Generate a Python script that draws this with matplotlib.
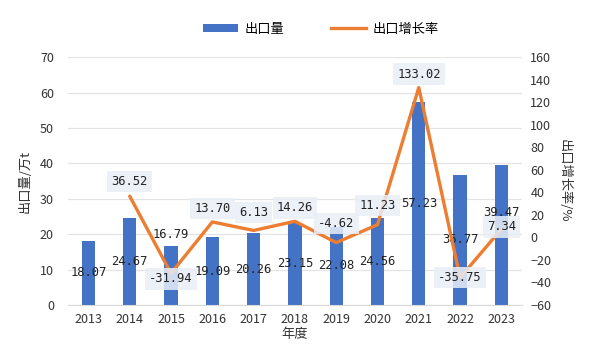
import matplotlib
matplotlib.use("Agg")
import matplotlib.pyplot as plt
from matplotlib.lines import Line2D
from matplotlib.patches import Patch

plt.rcParams['font.family'] = ['Noto Sans CJK SC', 'DejaVu Sans']

years = ['2013', '2014', '2015', '2016', '2017', '2018', '2019', '2020', '2021', '2022', '2023']
export_vol = [18.07, 24.67, 16.79, 19.09, 20.26, 23.15, 22.08, 24.56, 57.23, 36.77, 39.47]
growth = [None, 36.52, -31.94, 13.70, 6.13, 14.26, -4.62, 11.23, 133.02, -35.75, 7.34]

blue = '#4472C4'
orange = '#ED7D31'
box_col = '#E9EEF6'
num_font = ['DejaVu Sans Mono']

fig = plt.figure(figsize=(6, 3.55), dpi=100)
ax = fig.add_axes([0.113, 0.141, 0.757, 0.698])
ax2 = ax.twinx()

x = list(range(len(years)))
ax.bar(x, export_vol, width=0.32, color=blue, zorder=2)
ax.set_ylim(0, 70)
ax.set_yticks(range(0, 71, 10))
ax.set_xlim(-0.5, len(years) - 0.5)
ax.set_xticks(x)
ax.set_xticklabels(years)
ax.grid(axis='y', color='#E4E4E4', linewidth=0.9, zorder=0)
ax.set_axisbelow(True)

gx = [i for i, g in enumerate(growth) if g is not None]
gy = [g for g in growth if g is not None]
ax2.plot(gx, gy, color=orange, linewidth=2.4, zorder=5, solid_capstyle='round')
ax2.set_ylim(-60, 160)
ax2.set_yticks(range(-60, 161, 20))

for a in (ax, ax2):
    for s in a.spines.values():
        s.set_visible(False)
    a.tick_params(length=0, labelsize=9, colors='#333333')
ax.spines['bottom'].set_visible(True)
ax.spines['bottom'].set_color('#D9D9D9')
ax.tick_params(axis='x', pad=6)
ax.tick_params(axis='y', pad=10)
ax2.tick_params(axis='y', pad=6)

ax.set_xlabel('年度', fontsize=9.5, color='#333333', labelpad=1)
ax.set_ylabel('出口量/万t', fontsize=9.5, color='#333333', labelpad=6)
ax2.set_ylabel('出口增长率/%', fontsize=9.5, color='#333333', rotation=-90, labelpad=14)

# bar labels: mostly at middle of bar
for i, v in enumerate(export_vol):
    yy = v / 2
    if i == 2:
        yy = v + 3.0
    if i == 10:
        yy = v / 2 + 6.5
    ax.text(i, yy, '%.2f' % v, ha='center', va='center', fontsize=8.7,
            family=num_font, color='#222222', zorder=6)

# line labels with light boxes
line_off = {1: 13, 2: -5, 3: 12, 4: 16, 5: 12, 6: 17, 7: 17, 8: 12, 9: 0, 10: 2}
for i, g in enumerate(growth):
    if g is None:
        continue
    t = ax2.text(i, g + line_off[i], '%.2f' % g, ha='center', va='center', fontsize=8.7,
                 family=num_font, color='#222222', zorder=7)
    t.set_bbox(dict(boxstyle='square,pad=0.35', facecolor=box_col, edgecolor='none', alpha=0.85))

handles = [Patch(facecolor=blue, edgecolor='none'),
           Line2D([0], [0], color=orange, linewidth=2.4)]
fig.legend(handles, ['出口量', '出口增长率'], loc='center', bbox_to_anchor=(0.535, 0.918),
           ncol=2, frameon=False, fontsize=9.5, handlelength=2.7, handleheight=0.5,
           columnspacing=3.5, handletextpad=0.5)

fig.savefig('out.png', dpi=100, facecolor='white')
